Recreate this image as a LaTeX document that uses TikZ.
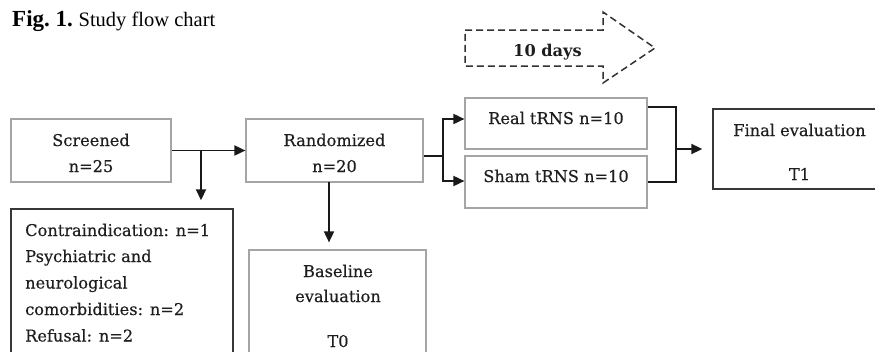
\documentclass[tikz,border=0pt]{standalone}
\usepackage{fontspec}
\setmainfont{DejaVu Serif}[UprightFeatures={FakeBold=0.35}]
\newfontfamily\titlefont{Liberation Serif}
\usetikzlibrary{arrows.meta}
\definecolor{lightbd}{RGB}{165,165,165}
\definecolor{darkbd}{RGB}{55,55,55}
\definecolor{ink}{RGB}{30,30,30}
\definecolor{conn}{RGB}{25,25,25}
\definecolor{dashc}{RGB}{50,50,50}
\tikzset{
  box/.style={draw=lightbd, line width=1.2pt, inner sep=0pt, rectangle},
  darkbox/.style={draw=darkbd, line width=1.4pt, inner sep=0pt, rectangle},
  txt/.style={inner sep=0pt, text=ink, font=\fontsize{16.2}{19}\selectfont, anchor=base},
  ltxt/.style={txt, anchor=base west},
  arr/.style={draw=conn, line width=1.8pt, -{Triangle[length=11pt,width=10pt]}},
  ln/.style={draw=conn, line width=1.8pt},
  dasharrow/.style={draw=dashc, line width=1.5pt, dash pattern=on 7pt off 4pt},
}
\begin{document}
\begin{tikzpicture}[x=1pt,y=-1pt]
\useasboundingbox (0,0) rectangle (875,351);
\fill[white] (0,0) rectangle (875,351);
\clip (0,0) rectangle (875,351);

% title
\node[anchor=base west, inner sep=0pt, text=black] (title) at (12,26)
  {\titlefont\fontsize{23}{26}\selectfont\bfseries Fig.~1.\ \mdseries\fontsize{20.5}{24}\selectfont Study flow chart};

% dashed arrow
\draw[dasharrow] (465,30) -- (603,30) -- (603,12) -- (655,48) -- (603,83) -- (603,66) -- (465,66) -- cycle;
\node[txt, font=\bfseries\fontsize{16.2}{19}\selectfont] (days) at (547.5,56) {10 days};

% boxes
\node[box, minimum width=160, minimum height=63] (scr) at (91,150.5) {};
\node[box, minimum width=177, minimum height=63] (rnd) at (334.5,150.5) {};
\node[box, minimum width=182, minimum height=51] (real) at (556,123.5) {};
\node[box, minimum width=182, minimum height=52] (sham) at (556,182) {};
\node[darkbox, minimum width=173, minimum height=80] (fin) at (799.5,149) {};
\node[darkbox, minimum width=222, minimum height=161] (con) at (122,289.5) {};
\node[box, minimum width=177, minimum height=120] (bas) at (337.5,310) {};

% texts
\node[txt] (t1) at (91,146) {Screened};
\node[txt] (t2) at (91,172) {n=25};
\node[txt] (t3) at (334.5,146) {Randomized};
\node[txt] (t4) at (334.5,172) {n=20};
\node[txt] (t5) at (556,124) {Real tRNS n=10};
\node[txt] (t6) at (556,182) {Sham tRNS n=10};
\node[txt] (t7) at (799.5,136) {Final evaluation};
\node[txt] (t8) at (799.5,180) {T1};
\node[ltxt] (c1) at (25,236) {Contraindication: n=1};
\node[ltxt] (c2) at (25,262) {Psychiatric and};
\node[ltxt] (c3) at (25,288.5) {neurological};
\node[ltxt] (c4) at (25,315) {comorbidities: n=2};
\node[ltxt] (c5) at (25,341.5) {Refusal: n=2};
\node[txt] (b1) at (338,277) {Baseline};
\node[txt] (b2) at (338,302) {evaluation};
\node[txt] (b3) at (338,347) {T0};

% connectors
\coordinate (br) at (201,150.5);
\draw[arr] (scr.east) -- (rnd.west);
\draw[arr, shorten >=8pt] (br) -- (br |- con.north);

\coordinate (rd) at (329,182);
\draw[arr, shorten >=7pt] (rd) -- (rd |- bas.north);

\coordinate (sp) at (443,156);
\coordinate (spT) at (443,119);
\coordinate (spB) at (443,181);
\draw[ln] (rnd.east |- sp) -- (sp);
\draw[arr] (sp) -- (spT) -- (real.west |- spT);
\draw[arr] (sp) -- (spB) -- (sham.west |- spB);

\coordinate (mT) at (676,107);
\coordinate (mB) at (676,182);
\coordinate (mM) at (676,149);
\draw[ln] (real.east |- mT) -- (mT) -- (mB) -- (sham.east |- mB);
\draw[arr, shorten >=10pt] (mM) -- (fin.west |- mM);
\end{tikzpicture}
\end{document}
